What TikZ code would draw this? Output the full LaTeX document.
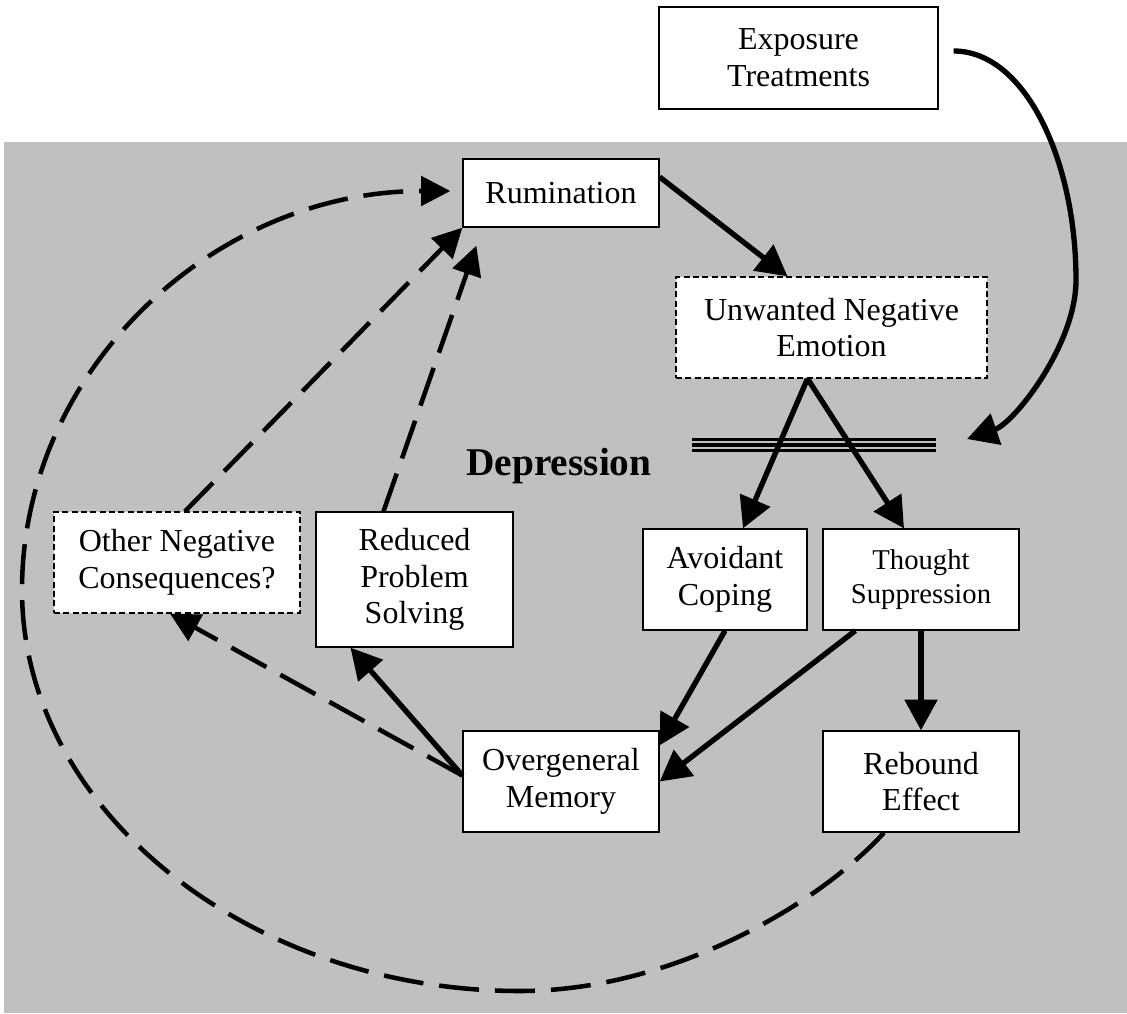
\documentclass[tikz,border=0pt]{standalone}
\usepackage{fontspec}
\setmainfont{Liberation Serif}
\usepackage{tikz}
\usetikzlibrary{arrows.meta,calc,positioning}
\definecolor{bggray}{RGB}{192,192,192}

\begin{document}
\begin{tikzpicture}[x=0.75pt,y=-0.75pt,
  box/.style={draw, line width=1pt, fill=white, inner sep=0pt, align=center,
    minimum height=75.75pt, font=\fontsize{24}{27.5}\selectfont},
  dbox/.style={box, dash pattern=on 4.5pt off 2.5pt},
  arr/.style={line width=4pt, -{Triangle[width=24pt,length=23pt]}},
  darr/.style={line width=3.4pt, dash pattern=on 30pt off 12pt, -{Triangle[width=22pt,length=22pt]}}]
\useasboundingbox (0,0) rectangle (1127,1013);
\fill[bggray] (4,142) rectangle (1127,1013);
% boxes
\node[box, minimum width=209.25pt, minimum height=76.5pt] (expo) at (798.5,58) {Exposure\\Treatments};
\node[box, minimum width=147pt, minimum height=51pt] (rum) at (561,193) {Rumination};
\node[dbox, minimum width=233.25pt] (une) at (831.5,327.5) {Unwanted Negative\\Emotion};
\node[dbox, minimum width=184.5pt] (other) at (177,562.5) {Other Negative\\Consequences?};
\node[box, minimum width=147.75pt, minimum height=101.25pt] (rps) at (414.5,579.5) {Reduced\\Problem\\Solving};
\node[box, minimum width=123pt] (avoid) at (725,579.5) {Avoidant\\Coping};
\node[box, minimum width=147pt, font=\fontsize{21.5}{25}\selectfont] (thought) at (921,579.5) {Thought\\Suppression};
\node[box, minimum width=147pt] (overg) at (561,781.5) {Overgeneral\\Memory};
\node[box, minimum width=147pt] (rebound) at (921,781.5) {Rebound\\Effect};
\node[font=\bfseries\fontsize{29.5}{34}\selectfont, anchor=base] (dep) at (559,475) {Depression};
% barrier
\coordinate (bar) at (936,445);
\foreach \dy in {-5.7,0,5.7}
  \draw[line width=2.3pt] ($(bar)+(-244,\dy)$) -- ($(bar)+(0,\dy)$);
% solid arrows
\draw[arr] ($(rum.east)+(0,-16)$) -- ($(une.north)+(-44,0)$);
\draw[arr] ($(une.south)+(-24,0)$) -- ($(avoid.north)+(18,0)$);
\draw[arr] ($(une.south)+(-24,0)$) -- ($(thought.north)+(-17,0)$);
\draw[arr] (avoid.south) -- ($(overg.north east)+(0,15)$);
\draw[arr] ($(thought.south west)+(33,0)$) -- (overg.east);
\draw[arr] (thought.south) -- (rebound.north);
\draw[arr] ($(overg.west)+(0,-6)$) -- ($(rps.south)+(-64,0)$);
\draw[arr] ($(expo.east)+(15,-7)$) .. controls (1025,51) and (1076,160) .. (1076,280)
  .. controls (1076,345) and (1014,423) .. ($(bar)+(31,-6)$);
% dashed arrows
\draw[darr] ($(overg.west)+(0,-6)$) -- ($(other.south)+(-7,0)$);
\draw[darr] ($(other.north)+(8,0)$) -- (rum.south west);
\draw[darr] ($(rps.north)+(-31,0)$) -- ($(rum.south west)+(14,18)$);
\draw[darr] ($(rebound.south)+(-37,0)$) .. controls (817,906) and (670,991) .. (520,991)
  .. controls (250,991) and (22,811) .. (22,590)
  .. controls (22,370) and (214,191) .. ($(rum.west)+(-12,-2)$);
\end{tikzpicture}
\end{document}
